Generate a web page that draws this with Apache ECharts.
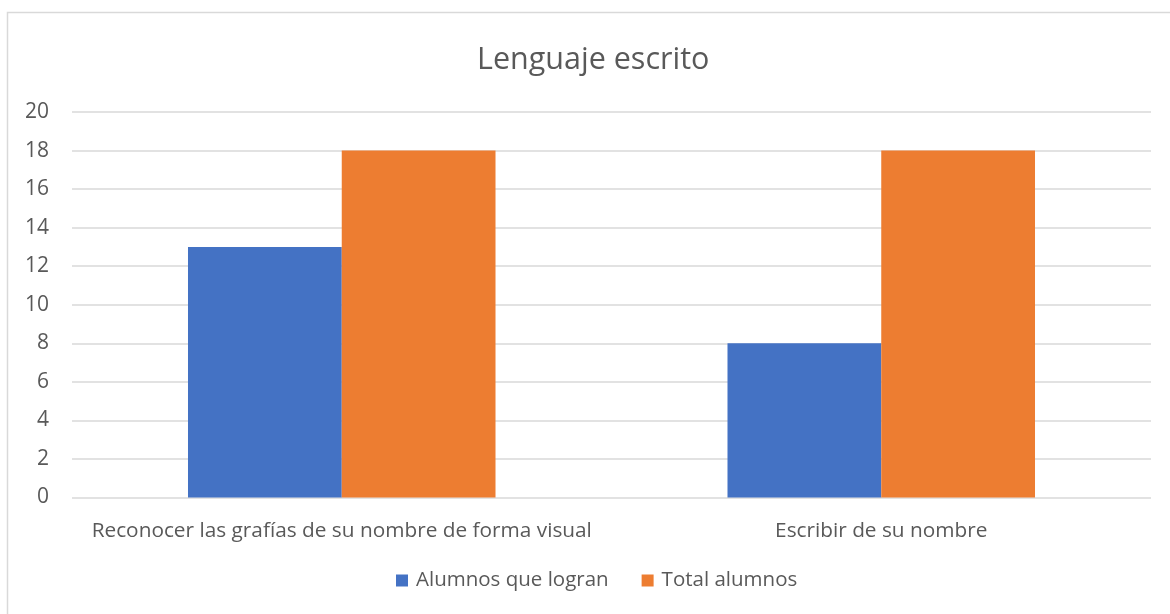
<!DOCTYPE html>
<html>
<head>
<meta charset="utf-8">
<script src="https://cdn.jsdelivr.net/npm/echarts@6/dist/echarts.min.js"></script>
<style>
  html, body { margin: 0; padding: 0; background: #fff; }
  #chart { width: 1170px; height: 614px; }
</style>
</head>
<body>
<div id="chart"></div>
<script>
// Lenguaje escrito - barras agrupadas
const categories = ['Reconocer las grafías de su nombre de forma visual', 'Escribir de su nombre'];
const logran = [13, 8];
const total = [18, 18];
const seriesNames = ['Alumnos que logran', 'Total alumnos'];

const COLORS = { blue: '#4472C4', orange: '#ED7D31', text: '#595959', grid: '#d9d9d9' };
const FONT = "'Open Sans', 'Noto Sans', sans-serif";

const chart = echarts.init(document.getElementById('chart'));
chart.setOption({
  backgroundColor: '#fff',
  textStyle: { fontFamily: FONT, color: COLORS.text },
  animation: false,
  title: {
    text: 'Lenguaje escrito',
    left: 472, top: 40,
    textStyle: { fontFamily: FONT, fontSize: 30.5, fontWeight: 'normal', color: COLORS.text },
  },
  graphic: [{
    type: 'rect',
    shape: { x: 7.5, y: 12.5, width: 1180, height: 620 },
    style: { fill: 'none', stroke: COLORS.grid, lineWidth: 1.5 },
    silent: true,
  }],
  legend: {
    bottom: 18, left: 391,
    itemWidth: 12, itemHeight: 12, itemGap: 33,
    icon: 'rect',
    textStyle: { fontFamily: FONT, fontSize: 20.5, color: COLORS.text, padding: [0, 0, 0, 3] },
    data: seriesNames,
  },
  grid: { left: 72, right: 19, top: 112, bottom: 116.5, containLabel: false },
  xAxis: {
    type: 'category',
    data: categories,
    axisLine: { show: false },
    axisTick: { show: false },
    axisLabel: { color: COLORS.text, fontSize: 20.8, fontFamily: FONT, margin: 23, interval: 0 },
  },
  yAxis: {
    type: 'value',
    min: 0, max: 20, interval: 2,
    axisLine: { show: false },
    axisTick: { show: false },
    axisLabel: { color: COLORS.text, fontSize: 21, fontFamily: FONT, margin: 23 },
    splitLine: { lineStyle: { color: COLORS.grid, width: 1.5 } },
  },
  series: [
    { name: seriesNames[0], type: 'bar', data: logran, barGap: '0%', barCategoryGap: '43%',
      itemStyle: { color: COLORS.blue } },
    { name: seriesNames[1], type: 'bar', data: total, barGap: '0%', barCategoryGap: '43%',
      itemStyle: { color: COLORS.orange } },
  ],
});
</script>
</body>
</html>
